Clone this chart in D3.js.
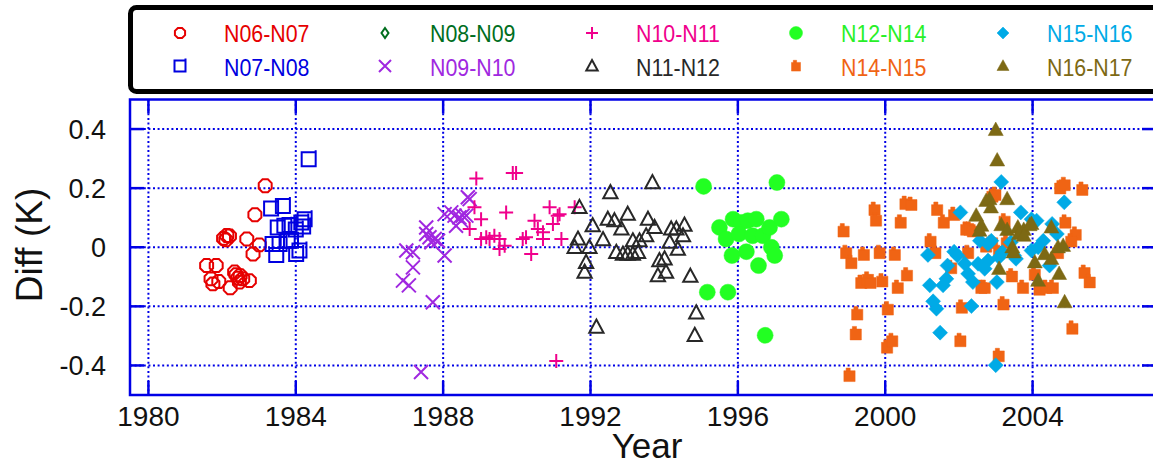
<!DOCTYPE html>
<html><head><meta charset="utf-8">
<script src="https://cdn.jsdelivr.net/npm/d3@7"></script>
<style>body{margin:0;background:#fff}svg{display:block;font-family:"Liberation Sans",Arial,sans-serif}</style>
</head><body><svg id="c" width="1153" height="465"></svg>
<script>
const xTicks = [1980,1984,1988,1992,1996,2000,2004];
const yTicks = [-0.4,-0.2,0,0.2,0.4];
const yTickLabels = ["-0.4","-0.2","0","0.2","0.4"];
const seriesNames = ["N06-N07","N07-N08","N08-N09","N09-N10","N10-N11","N11-N12","N12-N14","N14-N15","N15-N16","N16-N17"];
const seriesColors = ["#e60000","#0000e0","#006e1e","#a028e0","#f0008c","#282828","#22ff22","#f06414","#00aae6","#7d6914"];
const textColors   = ["#e60000","#0000e0","#006e1e","#a028e0","#f0008c","#282828","#28f028","#f06414","#00aae6","#7d6914"];

const n0607 = [[1983.17,0.208],[1982.89,0.110],[1982.04,0.030],[1982.13,0.040],[1982.20,0.038],[1982.10,0.025],[1982.67,0.028],[1983.01,0.008],[1982.84,-0.023],[1981.58,-0.062],[1981.84,-0.062],[1981.70,-0.107],[1981.75,-0.124],[1981.91,-0.116],[1982.22,-0.137],[1982.34,-0.084],[1982.38,-0.093],[1982.49,-0.096],[1982.56,-0.107],[1982.74,-0.113],[1982.47,-0.118],[1982.43,-0.105]];
const n0708 = [[1984.35,0.298],[1983.33,0.131],[1983.65,0.140],[1983.51,0.067],[1983.69,0.073],[1983.83,0.075],[1984.15,0.084],[1984.24,0.095],[1983.37,0.011],[1983.56,0.011],[1983.47,-0.026],[1983.78,0.022],[1983.87,0.022],[1984.01,-0.023],[1984.10,-0.011],[1984.00,0.060],[1984.20,0.070]];
const n0809 = [];
const n0910 = [[1987.40,-0.422],[1987.72,-0.186],[1986.91,-0.113],[1987.07,-0.129],[1987.18,-0.068],[1987.00,-0.011],[1987.18,-0.017],[1988.04,-0.028],[1987.54,0.067],[1987.54,0.045],[1987.63,0.034],[1987.77,0.028],[1987.86,0.022],[1987.68,0.017],[1988.04,0.112],[1988.22,0.118],[1988.31,0.107],[1988.44,0.101],[1988.49,0.090],[1988.35,0.073],[1988.53,0.107],[1988.63,0.107],[1988.72,0.163],[1988.67,0.169]];
const n1011 = [[1988.90,0.233],[1989.89,0.251],[1989.98,0.251],[1988.85,0.135],[1989.03,0.095],[1988.72,0.062],[1989.71,0.118],[1989.03,0.028],[1989.17,0.034],[1989.26,0.028],[1989.39,0.039],[1989.53,0.028],[1989.53,-0.006],[1989.67,0.005],[1990.16,0.028],[1990.25,0.034],[1990.39,-0.023],[1990.48,0.090],[1990.57,0.062],[1990.71,0.051],[1990.71,0.028],[1990.89,0.135],[1990.98,0.079],[1991.11,0.107],[1991.16,0.112],[1991.21,0.028],[1991.57,0.135],[1991.07,-0.385]];
const n1112 = [[1991.70,0.135],[1992.06,0.073],[1991.66,0.028],[1991.57,0.000],[1991.97,0.000],[1991.88,-0.051],[1991.84,-0.084],[1992.16,-0.270],[1992.54,0.185],[1993.68,0.219],[1992.34,0.026],[1992.47,0.095],[1992.65,0.090],[1992.84,0.062],[1993.01,0.112],[1992.70,-0.017],[1992.88,-0.023],[1993.01,-0.023],[1993.15,-0.023],[1993.29,-0.017],[1993.33,0.022],[1993.15,0.022],[1993.56,0.095],[1993.74,0.067],[1993.51,0.039],[1994.19,0.062],[1994.33,0.062],[1994.55,0.075],[1994.51,0.039],[1994.15,0.017],[1994.37,-0.006],[1993.87,-0.045],[1994.01,-0.039],[1994.05,-0.084],[1993.83,-0.096],[1994.71,-0.098],[1994.87,-0.222],[1994.83,-0.298]];
const n1214 = [[1995.07,0.206],[1997.06,0.219],[1995.50,0.067],[1995.87,0.095],[1996.09,0.084],[1996.27,0.090],[1996.50,0.095],[1995.68,0.028],[1996.03,0.045],[1996.40,0.039],[1996.68,0.039],[1996.86,0.067],[1997.18,0.095],[1995.84,-0.028],[1996.23,-0.015],[1996.56,-0.062],[1996.91,0.000],[1997.00,-0.028],[1995.17,-0.152],[1995.73,-0.152],[1996.74,-0.298]];
const n1415 = [[1999.03,-0.433],[1999.20,-0.292],[1999.24,-0.225],[2000.05,-0.337],[2000.19,-0.315],[2000.07,-0.208],[1998.87,0.056],[1998.94,-0.017],[1999.08,-0.051],[1999.42,-0.023],[1999.85,-0.017],[2000.26,-0.023],[1999.71,0.129],[1999.75,0.093],[1999.35,-0.118],[1999.53,-0.107],[1999.60,-0.118],[1999.92,-0.113],[2000.34,-0.135],[2000.42,0.086],[2000.59,-0.093],[2000.55,0.149],[2000.71,0.146],[2001.41,0.129],[2001.59,0.086],[2001.23,0.022],[2001.36,-0.017],[2001.87,0.112],[2002.20,0.062],[2002.29,0.062],[2002.25,-0.017],[2001.79,-0.068],[2002.08,-0.202],[2002.04,-0.315],[2002.91,0.174],[2002.61,-0.135],[2002.70,-0.135],[2003.21,-0.191],[2003.08,-0.366],[2002.38,0.056],[2002.74,0.005],[2003.09,-0.017],[2003.44,-0.096],[2003.24,0.090],[2003.74,-0.135],[2004.19,-0.141],[2004.37,-0.135],[2004.55,-0.135],[2004.06,-0.090],[2004.75,0.202],[2004.87,0.213],[2005.35,0.197],[2004.89,0.086],[2005.17,0.045],[2005.05,0.022],[2005.41,-0.084],[2005.55,-0.116],[2005.08,-0.273],[2004.69,-0.017],[2002.99,0.180],[2003.30,0.017],[2002.90,0.017]];
const n1516 = [[2003.15,0.221],[2002.04,0.118],[2001.16,-0.026],[2001.87,-0.015],[2001.96,-0.028],[2001.69,-0.062],[2001.21,-0.129],[2001.57,-0.129],[2001.66,-0.107],[2001.30,-0.183],[2001.39,-0.208],[2001.49,-0.289],[2002.16,-0.056],[2002.25,-0.090],[2002.38,-0.118],[2002.34,-0.199],[2002.57,0.022],[2002.79,0.011],[2002.88,0.022],[2002.52,-0.056],[2002.70,-0.073],[2002.79,-0.045],[2003.03,-0.118],[2003.00,-0.399],[2003.09,-0.034],[2003.18,-0.017],[2003.50,-0.028],[2003.68,0.118],[2003.41,0.017],[2003.55,-0.039],[2003.97,-0.011],[2004.29,0.022],[2004.11,0.090],[2003.97,0.095],[2004.53,0.079],[2004.66,0.045],[2004.86,0.152],[2004.46,-0.062],[2004.15,0.000]];
const n1617 = [[2003.00,0.397],[2003.04,0.294],[2002.74,0.157],[2002.83,0.163],[2002.87,0.135],[2003.31,0.163],[2002.47,0.107],[2002.61,0.073],[2002.56,0.056],[2003.15,0.075],[2003.31,0.059],[2003.60,0.067],[2003.76,0.059],[2003.92,0.075],[2003.97,0.079],[2003.63,0.045],[2003.76,0.039],[2003.45,0.000],[2003.48,-0.017],[2004.51,0.067],[2004.69,0.000],[2004.83,0.005],[2004.33,-0.023],[2004.06,-0.051],[2004.51,-0.039],[2003.09,-0.073],[2004.72,-0.090],[2004.15,-0.113],[2004.87,-0.186]];
const allSeries = [n0607,n0708,n0809,n0910,n1011,n1112,n1214,n1415,n1516,n1617];

const svg = d3.select("#c");
const L=130, R=1156, T=99.5, B=395;
const x = d3.scaleLinear().domain([1979.5,2007.35]).range([L,R]);
const y = d3.scaleLinear().domain([-0.5,0.5]).range([B,T]);
const blue = "#0000e6";

function shape(i, s){
  switch(i){
    case 0: {
      let p=""; for(let k=0;k<8;k++){const a=Math.PI/8+k*Math.PI/4; p+=(k?"L":"M")+(s*Math.cos(a)).toFixed(2)+","+(s*Math.sin(a)).toFixed(2);} return p+"Z"; }
    case 1: return `M${-s},${-s}H${s}V${s}H${-s}Z M${s},${-s-2}V${s+1}`;
    case 2: return `M0,${-s}L${s*0.7},0L0,${s}L${-s*0.7},0Z`;
    case 3: return `M${-s},${-s}L${s},${s}M${-s},${s}L${s},${-s}`;
    case 4: return `M${-s},0H${s}M0,${-s}V${s}`;
    case 5: return `M0,${-s}L${s*0.95},${s*0.75}H${-s*0.95}Z`;
    case 6: return d3.symbol(d3.symbolCircle, Math.PI*s*s)();
    case 7: return `M${-s*0.75},${-s*0.6}H${s*0.75}V${s*0.85}H${-s*0.75}Z M${-s*0.45},${-s*0.6}V${-s*0.95}H${s*0.1}V${-s*0.6}Z`;
    case 8: return `M0,${-s}L${s},0L0,${s}L${-s},0Z`;
    case 9: return `M0,${-s*1.05}L${s},${s*0.75}H${-s}Z`;
  }
}
const filled = [false,false,false,false,false,false,true,true,true,true];
const sizes = [7,7,6,7,7,7.5,8,7.5,7.5,7.5];
const lsizes = [5.5,5.5,5,6,6,6,6.5,6,6,6];

const g = svg.append("g");
g.selectAll(".gx").data(xTicks).join("line")
  .attr("x1",d=>x(d)).attr("x2",d=>x(d)).attr("y1",T).attr("y2",B)
  .attr("stroke",blue).attr("stroke-width",2).attr("stroke-dasharray","2,2.6");
g.selectAll(".gy").data(yTicks).join("line")
  .attr("x1",L).attr("x2",R).attr("y1",d=>y(d)).attr("y2",d=>y(d))
  .attr("stroke",blue).attr("stroke-width",2).attr("stroke-dasharray","2,2.6");

const tl=14;
g.selectAll(".tb").data(xTicks).join("line").attr("x1",d=>x(d)).attr("x2",d=>x(d)).attr("y1",B).attr("y2",B-tl).attr("stroke",blue).attr("stroke-width",2.5);
g.selectAll(".tt").data(xTicks).join("line").attr("x1",d=>x(d)).attr("x2",d=>x(d)).attr("y1",T).attr("y2",T+tl).attr("stroke",blue).attr("stroke-width",2.5);
g.selectAll(".tlft").data(yTicks).join("line").attr("x1",L).attr("x2",L+tl).attr("y1",d=>y(d)).attr("y2",d=>y(d)).attr("stroke",blue).attr("stroke-width",2.5);
g.selectAll(".trt").data(yTicks).join("line").attr("x1",R).attr("x2",R-tl).attr("y1",d=>y(d)).attr("y2",d=>y(d)).attr("stroke",blue).attr("stroke-width",2.5);

svg.append("rect").attr("x",L).attr("y",T).attr("width",R-L).attr("height",B-T)
  .attr("fill","none").attr("stroke",blue).attr("stroke-width",2.5);

svg.append("g").selectAll("text").data(xTicks).join("text")
  .attr("x",d=>x(d)).attr("y",426).attr("text-anchor","middle")
  .attr("font-size",28).attr("fill","#111").text(d=>d);
svg.append("g").selectAll("text").data(yTicks).join("text")
  .attr("x",106).attr("y",d=>y(d)+10).attr("text-anchor","end")
  .attr("font-size",27).attr("fill","#111").text((d,i)=>yTickLabels[i]);

svg.append("text").attr("x",647).attr("y",458).attr("text-anchor","middle")
  .attr("font-size",35).attr("fill","#111").text("Year");
svg.append("text").attr("transform","translate(42,245) rotate(-90)").attr("text-anchor","middle")
  .attr("font-size",37).attr("fill","#111").text("Diff (K)");

allSeries.forEach((ser,i)=>{
  svg.append("g").selectAll("path").data(ser).join("path")
    .attr("transform",d=>`translate(${x(d[0])},${y(d[1])})`)
    .attr("d",shape(i,sizes[i]))
    .attr("fill",filled[i]?seriesColors[i]:"none")
    .attr("stroke",seriesColors[i])
    .attr("stroke-width",filled[i]?0.5:2)
    .attr("stroke-linejoin","miter");
});

const lg = svg.append("g");
lg.append("rect").attr("x",130.5).attr("y",7.5).attr("width",1060).attr("height",84)
  .attr("rx",6).attr("fill","#fff").attr("stroke","#000").attr("stroke-width",5);
const mX=[180,385,592,796,1003], tX=[224,430,636,841,1047], rowY=[33,66], baseY=[42,76];
seriesNames.forEach((nm,i)=>{
  const col=Math.floor(i/2), row=i%2;
  lg.append("path").attr("transform",`translate(${mX[col]},${rowY[row]})`)
    .attr("d",shape(i,lsizes[i]))
    .attr("fill",filled[i]?seriesColors[i]:"none")
    .attr("stroke",seriesColors[i]).attr("stroke-width",filled[i]?0.5:2);
  lg.append("text").attr("transform",`translate(${tX[col]},${baseY[row]}) scale(0.89,1)`)
    .attr("font-size",24).attr("fill",textColors[i]).text(nm);
});
</script></body></html>
